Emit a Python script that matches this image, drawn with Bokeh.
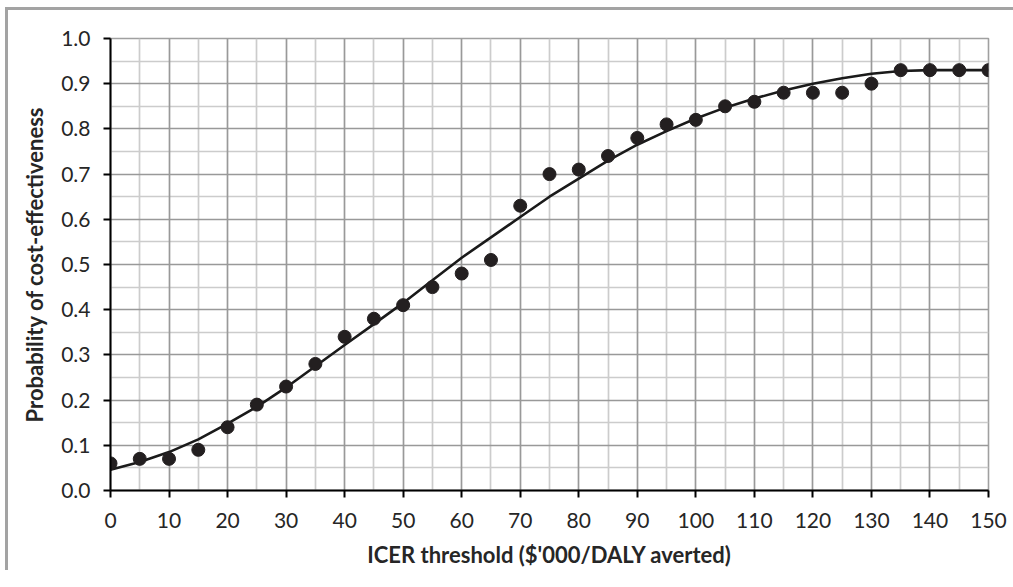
from bokeh.plotting import figure
from bokeh.models import Range1d, FixedTicker, Grid, CustomJSTickFormatter
from bokeh.embed import file_html
from bokeh.resources import INLINE

# ICER thresholds ($'000/DALY averted)
thresholds = [0, 5, 10, 15, 20, 25, 30, 35, 40, 45, 50, 55, 60, 65, 70, 75,
              80, 85, 90, 95, 100, 105, 110, 115, 120, 125, 130, 135, 140, 145, 150]
# Observed probability of cost-effectiveness (dots)
prob_observed = [0.06, 0.07, 0.07, 0.09, 0.14, 0.19, 0.23, 0.28, 0.34, 0.38, 0.41,
                 0.45, 0.48, 0.51, 0.63, 0.70, 0.71, 0.74, 0.78, 0.81, 0.82, 0.85,
                 0.86, 0.88, 0.88, 0.88, 0.90, 0.93, 0.93, 0.93, 0.93]
# Fitted curve values at the same thresholds
prob_fitted = [0.046, 0.063, 0.085, 0.113, 0.148, 0.185, 0.228, 0.275, 0.322, 0.368,
               0.415, 0.465, 0.515, 0.560, 0.605, 0.650, 0.690, 0.730, 0.765, 0.795,
               0.823, 0.847, 0.867, 0.885, 0.900, 0.912, 0.922, 0.928, 0.930, 0.930, 0.930]

x_major = list(range(0, 151, 10))
x_minor = list(range(5, 151, 10))
y_major = [round(i * 0.1, 1) for i in range(0, 11)]
y_minor = [round(0.05 + i * 0.1, 2) for i in range(0, 10)]

FONT = "Lato"
TXT = "#262626"

p = figure(output_backend="svg", toolbar_location=None,
           frame_width=878, frame_height=452,
           x_range=Range1d(0, 150), y_range=Range1d(0, 1),
           min_border_left=102, min_border_top=28, min_border_right=25,
           min_border_bottom=79)
p.styles = {"border-top": "3px solid #a3a3a3", "border-left": "3px solid #a3a3a3",
            "margin-left": "5px", "margin-top": "7px"}

p.background_fill_color = "white"
p.border_fill_color = "white"
p.outline_line_color = "#a0a0a0"
p.outline_line_width = 1.6

p.xgrid.visible = False
p.ygrid.visible = False
gx_minor = Grid(dimension=0, ticker=FixedTicker(ticks=x_minor),
                grid_line_color="#cccccc", grid_line_width=1.7)
gy_minor = Grid(dimension=1, ticker=FixedTicker(ticks=y_minor),
                grid_line_color="#cccccc", grid_line_width=1.7)
gx_major = Grid(dimension=0, ticker=FixedTicker(ticks=x_major),
                grid_line_color="#999999", grid_line_width=1.7)
gy_major = Grid(dimension=1, ticker=FixedTicker(ticks=y_major),
                grid_line_color="#999999", grid_line_width=1.7)
for g in (gx_minor, gy_minor, gx_major, gy_major):
    p.add_layout(g)

p.xaxis.ticker = FixedTicker(ticks=x_major)
p.yaxis.ticker = FixedTicker(ticks=y_major)
p.yaxis.formatter = CustomJSTickFormatter(code="return tick.toFixed(1);")

for ax in (p.xaxis, p.yaxis):
    ax.axis_line_color = "black"
    ax.axis_line_width = 2
    ax.major_tick_line_color = "black"
    ax.major_tick_line_width = 2
    ax.major_tick_out = 7
    ax.major_tick_in = 0
    ax.minor_tick_line_color = None
    ax.major_label_text_font = FONT
    ax.major_label_text_font_size = "21px"
    ax.major_label_text_color = TXT
    ax.axis_label_text_font = FONT
    ax.axis_label_text_font_size = "22px"
    ax.axis_label_text_font_style = "bold"
    ax.axis_label_text_color = TXT

p.xaxis.axis_label = "ICER threshold ($'000/DALY averted)"
p.yaxis.axis_label = "Probability of cost-effectiveness"
p.xaxis.major_label_standoff = 15
p.yaxis.major_label_standoff = 13
p.xaxis.axis_label_standoff = 10
p.yaxis.axis_label_standoff = 10

p.line(thresholds, prob_fitted, line_color="#1a1a1a", line_width=2.6)
p.scatter(thresholds, prob_observed, size=13, fill_color="#231f20",
          line_color="#231f20")

open("out.html", "w").write(file_html(p, INLINE))
